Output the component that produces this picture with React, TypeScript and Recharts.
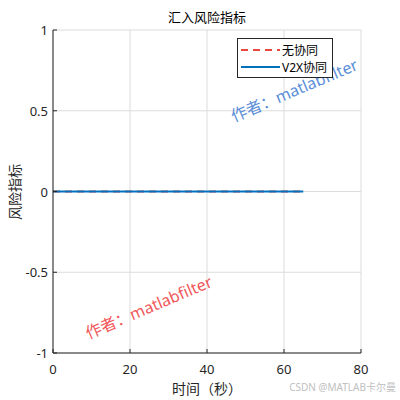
import { LineChart, Line, XAxis, YAxis, CartesianGrid } from "recharts";

const timeSec = [0, 5, 10, 15, 20, 25, 30, 35, 40, 45, 50, 55, 60, 65];
const riskNoCoop = [0, 0, 0, 0, 0, 0, 0, 0, 0, 0, 0, 0, 0, 0];
const riskV2X = [0, 0, 0, 0, 0, 0, 0, 0, 0, 0, 0, 0, 0, 0];
const xTicks = [0, 20, 40, 60, 80];
const yTicks = [-1, -0.5, 0, 0.5, 1];
const seriesNames = ["无协同", "V2X协同"];

const FONT = "'Noto Sans', 'Noto Sans CJK SC', sans-serif";
const AXIS = "#262626";
const TICK_LEN = 4;

const data = timeSec.map((t, i) => ({ t, a: riskNoCoop[i], b: riskV2X[i] }));

function BottomTick(props: any) {
  const { x, y, payload } = props;
  const axisY = y - 6;
  return (
    <g>
      <line x1={x} y1={axisY} x2={x} y2={axisY - TICK_LEN} stroke={AXIS} />
      <text x={x} y={axisY + 21} textAnchor="middle" fontSize={13} fill={AXIS} fontFamily={FONT}>
        {payload.value}
      </text>
    </g>
  );
}

function LeftTick(props: any) {
  const { x, y, payload } = props;
  const axisX = x + 6;
  return (
    <g>
      <line x1={axisX} y1={y} x2={axisX + TICK_LEN} y2={y} stroke={AXIS} />
      <text x={axisX - 5} y={y + 5} textAnchor="end" fontSize={13} fill={AXIS} fontFamily={FONT}>
        {payload.value}
      </text>
    </g>
  );
}

function TopTick(props: any) {
  const { x, y } = props;
  return <line x1={x} y1={y} x2={x} y2={y + TICK_LEN} stroke={AXIS} />;
}

function RightTick(props: any) {
  const { x, y } = props;
  return <line x1={x} y1={y} x2={x - TICK_LEN} y2={y} stroke={AXIS} />;
}

function LegendBox() {
  return (
    <div
      style={{
        position: "absolute",
        left: 237,
        top: 38,
        border: "1px solid #262626",
        background: "#fff",
        width: 94,
        padding: "2px 0",
        fontFamily: FONT,
        fontSize: 12,
        color: "#000",
      }}
    >
      {seriesNames.map((name, i) => (
        <div key={name} style={{ display: "flex", alignItems: "center", height: 17 }}>
          <svg width={44} height={10}>
            <line
              x1={3}
              y1={5}
              x2={42}
              y2={5}
              stroke={i === 0 ? "#e8483f" : "#0072BD"}
              strokeWidth={2}
              strokeDasharray={i === 0 ? "7 5" : undefined}
            />
          </svg>
          <span>{name}</span>
        </div>
      ))}
    </div>
  );
}

export default function App() {
  return (
    <div style={{ position: "absolute", left: 0, top: 0, width: 400, height: 400, background: "#fff" }}>
      <LineChart width={400} height={400} data={data} margin={{ top: 30, right: 39, bottom: 17, left: 8 }}>
        <CartesianGrid stroke="#dcdcdc" strokeWidth={1} />
        <XAxis
          dataKey="t"
          type="number"
          domain={[0, 80]}
          ticks={xTicks}
          tickSize={0}
          tickMargin={6}
          height={30}
          stroke={AXIS}
          tick={<BottomTick />}
          interval={0}
        />
        <XAxis
          xAxisId="top"
          orientation="top"
          dataKey="t"
          type="number"
          domain={[0, 80]}
          ticks={xTicks}
          tickSize={0}
          tickMargin={0}
          height={0}
          stroke={AXIS}
          tick={<TopTick />}
          interval={0}
        />
        <YAxis
          type="number"
          domain={[-1, 1]}
          ticks={yTicks}
          tickSize={0}
          tickMargin={6}
          width={45}
          stroke={AXIS}
          tick={<LeftTick />}
          interval={0}
        />
        <YAxis
          yAxisId="right"
          orientation="right"
          type="number"
          domain={[-1, 1]}
          ticks={yTicks}
          tickSize={0}
          tickMargin={0}
          width={0}
          stroke={AXIS}
          tick={<RightTick />}
          interval={0}
        />
        <Line
          dataKey="a"
          name={seriesNames[0]}
          stroke="#e8483f"
          strokeWidth={2}
          strokeDasharray="7 5"
          dot={false}
          zIndex={400}
          isAnimationActive={false}
        />
        <Line
          dataKey="b"
          name={seriesNames[1]}
          stroke="#0072BD"
          strokeWidth={2.2}
          dot={false}
          zIndex={401}
          isAnimationActive={false}
        />
        <text x={207} y={22} textAnchor="middle" fontSize={13} fill="#000" fontFamily={FONT}>
          汇入风险指标
        </text>
        <text
          x={20}
          y={192}
          textAnchor="middle"
          fontSize={14}
          fill={AXIS}
          fontFamily={FONT}
          transform="rotate(-90 20 192)"
        >
          风险指标
        </text>
        <text x={207} y={394} textAnchor="middle" fontSize={14} fill={AXIS} fontFamily={FONT}>
          时间（秒）
        </text>
        <text
          x={295}
          y={96}
          textAnchor="middle"
          fontSize={16}
          fill="#5b8ed8"
          fontFamily={FONT}
          transform="rotate(-23 295 92)"
        >
          作者：matlabfilter
        </text>
        <text
          x={149}
          y={313}
          textAnchor="middle"
          fontSize={16}
          fill="#f0585a"
          fontFamily={FONT}
          transform="rotate(-23 149 308)"
        >
          作者：matlabfilter
        </text>
        <text x={396} y={391} textAnchor="end" fontSize={10} fill="#c0c0c0" fontFamily={FONT}>
          CSDN @MATLAB卡尔曼
        </text>
      </LineChart>
      <LegendBox />
    </div>
  );
}
